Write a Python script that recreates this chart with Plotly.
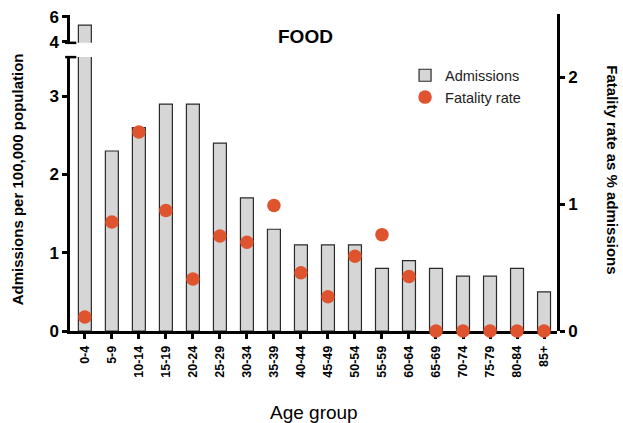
import plotly.graph_objects as go

age_groups = ["0-4", "5-9", "10-14", "15-19", "20-24", "25-29", "30-34", "35-39",
              "40-44", "45-49", "50-54", "55-59", "60-64", "65-69", "70-74",
              "75-79", "80-84", "85+"]
admissions = [5.35, 2.3, 2.6, 2.9, 2.9, 2.4, 1.7, 1.3, 1.1, 1.1, 1.1, 0.8, 0.9,
              0.8, 0.7, 0.7, 0.8, 0.5]
fatality_rate = [0.11, 0.86, 1.57, 0.95, 0.41, 0.75, 0.70, 0.99, 0.46, 0.27,
                 0.59, 0.76, 0.43, 0, 0, 0, 0, 0]
left_ticks_low = [0, 1, 2, 3]
left_ticks_high = [4, 6]
right_ticks = [0, 1, 2]

FONT = "Liberation Sans, Arial, Helvetica, sans-serif"
BAR_FILL = "#d6d6d6"
BAR_EDGE = "#2a2a2a"
DOT = "#e0532f"

fig = go.Figure()
fig.add_trace(go.Bar(x=age_groups, y=admissions, name="Admissions",
                     marker=dict(color=BAR_FILL, line=dict(color=BAR_EDGE, width=1.2)),
                     width=0.48, xaxis="x", yaxis="y"))
fig.add_trace(go.Bar(x=age_groups, y=admissions, name="Admissions", showlegend=False,
                     marker=dict(color=BAR_FILL, line=dict(color=BAR_EDGE, width=1.2)),
                     width=0.48, xaxis="x", yaxis="y2"))
fig.add_trace(go.Scatter(x=age_groups, y=fatality_rate, name="Fatality rate", mode="markers",
                         marker=dict(color=DOT, size=13.5), cliponaxis=False,
                         xaxis="x", yaxis="y3"))

axis_common = dict(showline=True, linecolor="black", linewidth=2.5, ticks="outside",
                   ticklen=5, tickwidth=2.5, tickcolor="black", showgrid=False,
                   zeroline=False, automargin=False)

LOW_TOP = 0.864
HIGH_BOTTOM = 0.909

fig.update_layout(
    width=623, height=423,
    margin=dict(l=70, r=66, t=14, b=92),
    paper_bgcolor="white", plot_bgcolor="rgba(0,0,0,0)",
    barmode="overlay",
    font=dict(family=FONT, color="black"),
    showlegend=True,
    legend=dict(x=0.688, y=0.857, xanchor="left", yanchor="top",
                font=dict(size=14.5, family=FONT, color="#222"),
                bgcolor="rgba(0,0,0,0)", tracegroupgap=4, itemwidth=30),
    xaxis=dict(**axis_common, type="category", range=[-0.55, 17.48], domain=[0, 1],
               anchor="y", tickangle=-90, tickfont=dict(size=12.5, family=FONT, weight="bold"),
               ticklabelstandoff=2),
    yaxis=dict(**axis_common, domain=[0, LOW_TOP], range=[0, 3.5], tickvals=left_ticks_low,
               anchor="x", tickfont=dict(size=17, family=FONT, weight="bold")),
    yaxis2=dict(**axis_common, domain=[HIGH_BOTTOM, 0.997], range=[3.92, 6.16],
                tickvals=left_ticks_high, anchor="x", ticklabeloverflow="allow",
                tickfont=dict(size=17, family=FONT, weight="bold")),
    yaxis3=dict(**axis_common, domain=[0, 1], range=[0, 2.5], tickvals=right_ticks,
                side="right", anchor="x",
                tickfont=dict(size=17, family=FONT, weight="bold")),
)

# axis-break caps on the left axis
for yb in (LOW_TOP, HIGH_BOTTOM):
    fig.add_shape(type="line", xref="paper", yref="paper", x0=-0.01, x1=0.013, y0=yb, y1=yb,
                  line=dict(color="black", width=2.5))

fig.add_annotation(text="<b>FOOD</b>", xref="paper", yref="paper", x=0.483, y=0.928,
                   xanchor="center", yanchor="middle",
                   showarrow=False, font=dict(size=19, family=FONT))
fig.add_annotation(text="<b>Admissions per 100,000 population</b>", xref="paper", yref="paper",
                   x=-0.108, y=0.48, textangle=-90, showarrow=False,
                   xanchor="center", yanchor="middle",
                   font=dict(size=15, family=FONT))
fig.add_annotation(text="<b>Fatality rate as % admissions</b>", xref="paper", yref="paper",
                   x=1.115, y=0.51, textangle=90, showarrow=False,
                   xanchor="center", yanchor="middle",
                   font=dict(size=15, family=FONT))
fig.add_annotation(text="Age group", xref="paper", yref="paper",
                   x=0.5, y=-0.256, showarrow=False,
                   xanchor="center", yanchor="middle",
                   font=dict(size=19, family=FONT))

fig.write_html("out.html",
               config={"displayModeBar": False},
               post_script="document.body.style.margin='0';"
                           "document.documentElement.style.overflow='hidden';")
